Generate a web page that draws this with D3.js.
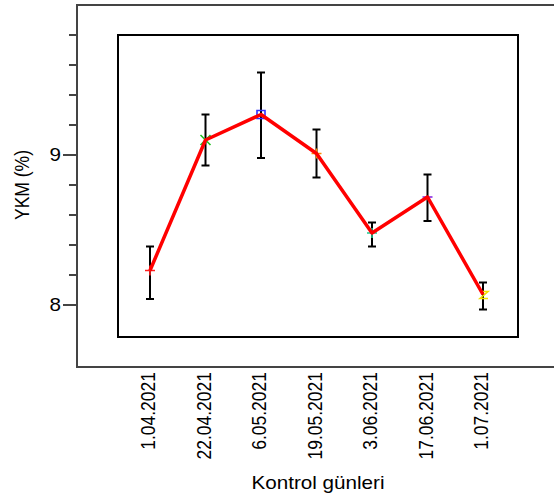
<!DOCTYPE html>
<html>
<head>
<meta charset="utf-8">
<script src="https://cdn.jsdelivr.net/npm/d3@7"></script>
<style>
  html, body { margin: 0; padding: 0; background: #fff; }
  svg { display: block; }
  text { font-family: "Liberation Sans", Arial, sans-serif; fill: #000; }
</style>
</head>
<body>
<svg id="chart" width="554" height="501"></svg>
<script>
// Control days and mean YKM (%) with error bar limits
const dates = ["1.04.2021", "22.04.2021", "6.05.2021", "19.05.2021", "3.06.2021", "17.06.2021", "1.07.2021"];
const means = [8.23, 9.10, 9.27, 9.01, 8.48, 8.72, 8.07];
const upper = [8.39, 9.27, 9.55, 9.17, 8.55, 8.87, 8.15];
const lower = [8.04, 8.93, 8.98, 8.85, 8.39, 8.56, 7.97];
const markerKinds = ["plus", "cross", "square", "plus", "plus", "dash", "zed"];
const markerColors = ["#ff2020", "#20c020", "#3030ff", "#ff8c00", "#20c890", "#8a2be2", "#f0e000"];
const yTicks = d3.range(8, 9.81, 0.2).map(v => +v.toFixed(1));
const yLabelled = [8, 9];

const svg = d3.select("#chart");
const sx = 1.18; // horizontal text stretch
const fs = 17.5;

const x = d3.scalePoint().domain(dates).range([150, 483]);
const y = d3.scaleLinear().domain([8, 9]).range([305, 155]);

// outer axis frame
const frame = { left: 77, top: 5, bottom: 367, right: 554 };
const axisColor = "#444";
svg.append("path")
  .attr("d", `M${frame.right},${frame.top}H${frame.left}V${frame.bottom}H${frame.right}`)
  .attr("fill", "none").attr("stroke", axisColor).attr("stroke-width", 2);

// inner box
svg.append("rect")
  .attr("x", 118).attr("y", 35).attr("width", 400).attr("height", 302)
  .attr("fill", "none").attr("stroke", "#000").attr("stroke-width", 2);

// y ticks
const tg = svg.append("g");
tg.selectAll("line").data(yTicks).join("line")
  .attr("x1", d => yLabelled.includes(d) ? frame.left - 14 : frame.left - 8)
  .attr("x2", frame.left)
  .attr("y1", d => y(d)).attr("y2", d => y(d))
  .attr("stroke", axisColor).attr("stroke-width", 2);
tg.selectAll("text").data(yLabelled).join("text")
  .attr("transform", d => `translate(61,${y(d)}) scale(${sx},1)`)
  .attr("text-anchor", "end").attr("dy", "0.36em")
  .attr("font-size", fs)
  .text(d => d);

// y title
svg.append("text")
  .attr("transform", `translate(29,185) scale(${sx},1) rotate(-90)`)
  .attr("text-anchor", "middle").attr("font-size", fs)
  .text("YKM (%)");

// x labels
svg.append("g").selectAll("text").data(dates).join("text")
  .attr("transform", d => `translate(${x(d) + 5},372) scale(${sx},1) rotate(-90)`)
  .attr("text-anchor", "end").attr("font-size", fs)
  .text(d => d);

// x title
svg.append("text")
  .attr("transform", `translate(318,489) scale(${sx},1)`)
  .attr("text-anchor", "middle").attr("font-size", fs)
  .text("Kontrol günleri");

const rows = dates.map((d, i) => ({ d, m: means[i], hi: upper[i], lo: lower[i], kind: markerKinds[i], color: markerColors[i] }));

// error bars
const eb = svg.append("g").attr("stroke", "#000").attr("stroke-width", 2);
rows.forEach(r => {
  const cx = x(r.d);
  eb.append("line").attr("x1", cx).attr("x2", cx).attr("y1", y(r.hi)).attr("y2", y(r.lo));
  eb.append("line").attr("x1", cx - 4).attr("x2", cx + 4).attr("y1", y(r.hi)).attr("y2", y(r.hi));
  eb.append("line").attr("x1", cx - 4).attr("x2", cx + 4).attr("y1", y(r.lo)).attr("y2", y(r.lo));
});

// markers
const mg = svg.append("g").attr("fill", "none").attr("stroke-width", 1.6);
rows.forEach(r => {
  const cx = x(r.d), cy = y(r.m);
  let p;
  if (r.kind === "plus") p = `M${cx - 5},${cy}H${cx + 5}M${cx},${cy - 5}V${cy + 5}`;
  else if (r.kind === "cross") p = `M${cx - 5},${cy - 5}L${cx + 5},${cy + 5}M${cx - 5},${cy + 5}L${cx + 5},${cy - 5}`;
  else if (r.kind === "square") p = `M${cx - 4},${cy - 4}h8v8h-8Z`;
  else if (r.kind === "dash") p = `M${cx - 5},${cy}H${cx + 5}`;
  else p = `M${cx - 3},${cy - 3}H${cx + 5}L${cx - 3},${cy + 4}H${cx + 5}`;
  mg.append("path").attr("d", p).attr("stroke", r.color);
});

// mean line
svg.append("path").datum(rows)
  .attr("d", d3.line().x(r => x(r.d)).y(r => y(r.m)))
  .attr("fill", "none").attr("stroke", "#ff0000").attr("stroke-width", 3.5)
  .attr("stroke-linejoin", "round");
</script>
</body>
</html>
